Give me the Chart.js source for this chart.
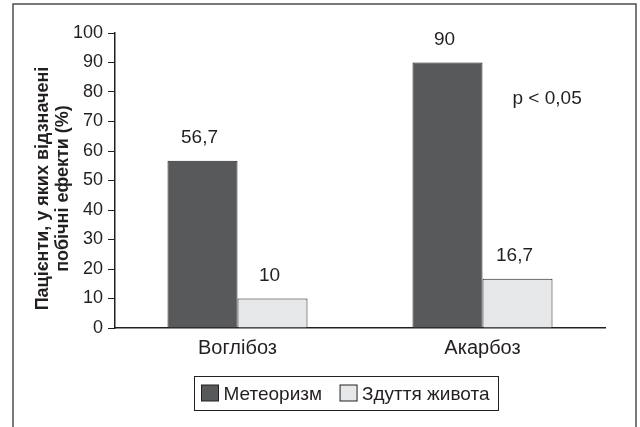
<!DOCTYPE html>
<html lang="uk">
<head>
<meta charset="utf-8">
<title>Побічні ефекти: Воглібоз та Акарбоз</title>
<script src="https://cdn.jsdelivr.net/npm/chart.js@4/dist/chart.umd.min.js"></script>
<style>
  html, body { margin: 0; padding: 0; background: #ffffff; }
  #wrap { width: 640px; height: 427px; position: relative; }
</style>
</head>
<body>
<div id="wrap"><canvas id="chart" width="640" height="427"></canvas></div>
<script>
// Drugs compared
const categories = ['Воглібоз', 'Акарбоз'];
// Share of patients with each side effect, %
const meteorism = [56.7, 90];
const bloating = [10, 16.7];
const seriesNames = ['Метеоризм', 'Здуття живота'];
// Value axis
const yTicks = [0, 10, 20, 30, 40, 50, 60, 70, 80, 90, 100];
const yTitle = ['Пацієнти, у яких відзначені', 'побічні ефекти (%)'];
const pNote = 'p < 0,05';

const INK = '#231f20';
const DARK = '#58595b';
const LIGHT = '#e6e7e8';
const FONT = '"Liberation Sans", Arial, sans-serif';

const fmt = v => String(v).replace('.', ',');

// Outer frame around the figure
const framePlugin = {
  id: 'frame',
  beforeDraw(chart) {
    const ctx = chart.ctx;
    ctx.save();
    ctx.fillStyle = '#ffffff';
    ctx.fillRect(0, 0, chart.width, chart.height);
    ctx.strokeStyle = '#4d4d4d';
    ctx.lineWidth = 1.5;
    ctx.strokeRect(13, 4, 623, 440);
    ctx.restore();
  }
};

// Value labels above bars and the significance note
const labelsPlugin = {
  id: 'valueLabels',
  afterDatasetsDraw(chart) {
    const ctx = chart.ctx;
    ctx.save();
    ctx.fillStyle = INK;
    ctx.font = '19px ' + FONT;
    ctx.textAlign = 'center';
    ctx.textBaseline = 'alphabetic';
    chart.data.datasets.forEach((ds, i) => {
      chart.getDatasetMeta(i).data.forEach((bar, j) => {
        ctx.fillText(fmt(ds.data[j]), bar.x - 3, bar.y - 18);
      });
    });
    const xs = chart.scales.x, ys = chart.scales.y;
    ctx.textAlign = 'left';
    ctx.fillText(pNote, xs.getPixelForValue(1) + 30, ys.getPixelForValue(76));
    ctx.restore();
  }
};

// Rotated two-line title of the value axis
const yTitlePlugin = {
  id: 'yTitle',
  afterDraw(chart) {
    const ctx = chart.ctx;
    const area = chart.chartArea;
    ctx.save();
    ctx.fillStyle = INK;
    ctx.font = 'bold 18px ' + FONT;
    ctx.textAlign = 'center';
    ctx.textBaseline = 'alphabetic';
    ctx.translate(48, (area.top + area.bottom) / 2 + 8);
    ctx.rotate(-Math.PI / 2);
    yTitle.forEach((line, k) => ctx.fillText(line, 0, k * 20));
    ctx.restore();
  }
};

// Boxed legend below the axis
const legendPlugin = {
  id: 'boxLegend',
  afterDraw(chart) {
    const ctx = chart.ctx;
    ctx.save();
    ctx.font = '19px ' + FONT;
    const sw = 17, sh = 16, gapText = 5, gapItem = 18, padL = 7, padR = 9;
    const items = chart.data.datasets.map(ds => ({
      label: ds.label, fill: ds.backgroundColor, w: ctx.measureText(ds.label).width
    }));
    let total = padL + padR;
    items.forEach((it, k) => { total += sw + gapText + it.w + (k ? gapItem : 0); });
    const cx = 346, top = 376.5, h = 34;
    const left = Math.round(cx - total / 2) + 0.5;
    ctx.strokeStyle = INK;
    ctx.lineWidth = 1;
    ctx.strokeRect(left, top, total, h);
    let x = left + padL;
    items.forEach((it, k) => {
      if (k) x += gapItem;
      ctx.fillStyle = it.fill;
      ctx.fillRect(x, top + 8.5, sw, sh);
      ctx.strokeRect(x, top + 8.5, sw, sh);
      x += sw + gapText;
      ctx.fillStyle = INK;
      ctx.textAlign = 'left';
      ctx.textBaseline = 'alphabetic';
      ctx.fillText(it.label, x, top + 23.5);
      x += it.w;
    });
    ctx.restore();
  }
};

new Chart(document.getElementById('chart'), {
  type: 'bar',
  data: {
    labels: categories,
    datasets: [
      { label: seriesNames[0], data: meteorism, backgroundColor: DARK, borderColor: INK, borderWidth: 1 },
      { label: seriesNames[1], data: bloating, backgroundColor: LIGHT, borderColor: INK, borderWidth: 1 }
    ]
  },
  options: {
    responsive: false,
    animation: false,
    devicePixelRatio: 1,
    layout: { padding: { top: 33, right: 35, bottom: 0, left: 0 } },
    datasets: { bar: { categoryPercentage: 140 / 245, barPercentage: 1 } },
    plugins: { legend: { display: false }, tooltip: { enabled: false } },
    scales: {
      x: {
        afterFit(scale) { scale.height = 99; },
        grid: { display: true, drawOnChartArea: false, drawTicks: false },
        border: { display: true, color: INK, width: 1.5 },
        ticks: { color: INK, font: { family: FONT, size: 20 }, padding: 8 }
      },
      y: {
        min: 0,
        max: 100,
        afterFit(scale) { scale.width = 115; },
        afterBuildTicks(scale) { scale.ticks = yTicks.map(v => ({ value: v })); },
        grid: { display: true, drawOnChartArea: false, drawTicks: true, tickLength: 7, color: INK, lineWidth: 1 },
        border: { display: true, color: INK, width: 1.5 },
        ticks: { color: INK, font: { family: FONT, size: 18 }, padding: 5 }
      }
    }
  },
  plugins: [framePlugin, labelsPlugin, yTitlePlugin, legendPlugin]
});
</script>
</body>
</html>
